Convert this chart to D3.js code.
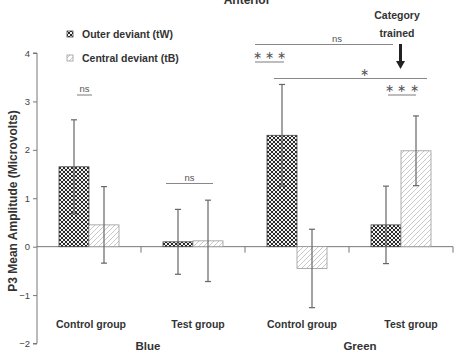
<!DOCTYPE html>
<html>
<head>
<meta charset="utf-8">
<script src="https://cdn.jsdelivr.net/npm/d3@7"></script>
<style>
  body { margin: 0; background: #fff; }
  text { font-family: "Liberation Sans", Arial, sans-serif; }
</style>
</head>
<body>
<div id="chart"></div>
<script>
// chart values
const colours = ["Blue", "Green"];
const groups = ["Control group", "Test group"];
const series = ["Outer deviant (tW)", "Central deviant (tB)"];
const outerMean = [1.65, 0.10, 2.30, 0.45];
const outerErr = [0.97, 0.67, 1.05, 0.80];
const centralMean = [0.45, 0.12, -0.45, 1.98];
const centralErr = [0.79, 0.84, 0.81, 0.72];
const yTicks = [-2, -1, 0, 1, 2, 3, 4];

var margin = {top: 53, right: 6, bottom: 12, left: 37},
  width = 459 - margin.left - margin.right,
  height = 355 - margin.top - margin.bottom;

var svg = d3.select("#chart").append("svg")
  .attr("width", 459).attr("height", 355);

// patterns
var defs = svg.append("defs");
var checker = defs.append("pattern").attr("id", "checker")
  .attr("patternUnits", "userSpaceOnUse").attr("width", 4).attr("height", 4);
checker.append("rect").attr("width", 4).attr("height", 4).attr("fill", "#f2f2f2");
checker.append("rect").attr("width", 2).attr("height", 2).attr("fill", "#2a2a2a");
checker.append("rect").attr("x", 2).attr("y", 2).attr("width", 2).attr("height", 2).attr("fill", "#2a2a2a");

var hatch = defs.append("pattern").attr("id", "hatch")
  .attr("patternUnits", "userSpaceOnUse").attr("width", 5).attr("height", 5);
hatch.append("rect").attr("width", 5).attr("height", 5).attr("fill", "#fff");
hatch.append("path").attr("d", "M-1,1 l2,-2 M0,5 l5,-5 M4,6 l2,-2")
  .attr("stroke", "#bbb").attr("stroke-width", 0.8);

var g = svg.append("g").attr("transform", "translate(" + margin.left + "," + margin.top + ")");

var cells = [];
colours.forEach(function(c) { groups.forEach(function(gr) { cells.push(c + "|" + gr); }); });

var xScale = d3.scaleBand().domain(cells).range([0, width]);
var xInner = d3.scaleBand().domain(series).range([0, 60]);
var yScale = d3.scaleLinear().domain([-2, 4]).range([height + 0.5, 0]);

// y axis
var yAxis = g.append("g")
  .call(d3.axisLeft(yScale).tickValues(yTicks).tickSize(4).tickPadding(3).tickFormat(d3.format("d")));
yAxis.select(".domain").attr("stroke", "#777").attr("d", "M-4," + yScale(-2) + "H0V" + yScale(4) + "H-4");
yAxis.selectAll(".tick line").attr("stroke", "#777");
yAxis.selectAll(".tick text").attr("fill", "#444").style("font-size", "9.5px")
  .style("font-family", "Liberation Sans, Arial, sans-serif");

// zero line with group dividers
g.append("line").attr("x1", 0).attr("x2", width).attr("y1", yScale(0)).attr("y2", yScale(0))
  .attr("stroke", "#777");
cells.forEach(function(c, i) {
  var xx = xScale(c) + xScale.bandwidth();
  g.append("line").attr("x1", xx).attr("x2", xx)
    .attr("y1", yScale(0)).attr("y2", yScale(0) + 6).attr("stroke", "#777");
});

var bars = [];
cells.forEach(function(c, i) {
  bars.push({cell: c, s: series[0], v: outerMean[i], e: outerErr[i]});
  bars.push({cell: c, s: series[1], v: centralMean[i], e: centralErr[i]});
});
var off = function(d) { return xScale(d.cell) + (xScale.bandwidth() - 60) / 2 + xInner(d.s); };

g.selectAll(".bar").data(bars).enter().append("rect")
  .attr("x", off)
  .attr("y", function(d) { return yScale(Math.max(0, d.v)); })
  .attr("width", xInner.bandwidth())
  .attr("height", function(d) { return Math.abs(yScale(d.v) - yScale(0)); })
  .attr("fill", function(d) { return d.s == series[0] ? "url(#checker)" : "url(#hatch)"; })
  .attr("stroke", function(d) { return d.s == series[0] ? "#444" : "#999"; })
  .attr("stroke-width", 0.8);

// error bars
var eb = g.selectAll(".err").data(bars).enter().append("g");
eb.append("line")
  .attr("x1", function(d) { return off(d) + xInner.bandwidth() / 2; })
  .attr("x2", function(d) { return off(d) + xInner.bandwidth() / 2; })
  .attr("y1", function(d) { return yScale(d.v + d.e); })
  .attr("y2", function(d) { return yScale(d.v - d.e); })
  .attr("stroke", "#666").attr("stroke-width", 1.2);
[1, -1].forEach(function(sgn) {
  eb.append("line")
    .attr("x1", function(d) { return off(d) + xInner.bandwidth() / 2 - 3; })
    .attr("x2", function(d) { return off(d) + xInner.bandwidth() / 2 + 3; })
    .attr("y1", function(d) { return yScale(d.v + sgn * d.e); })
    .attr("y2", function(d) { return yScale(d.v + sgn * d.e); })
    .attr("stroke", "#666").attr("stroke-width", 1.2);
});

// group labels
var labOff = [2, 5, 5, 10];
cells.forEach(function(c, i) {
  g.append("text").attr("x", xScale(c) + xScale.bandwidth() / 2 + labOff[i]).attr("y", 275)
    .attr("text-anchor", "middle").attr("fill", "#333")
    .style("font-size", "10.5px").style("font-weight", "bold").text(c.split("|")[1]);
});
colours.forEach(function(c, i) {
  g.append("text").attr("x", xScale(c + "|" + groups[0]) + xScale.bandwidth() + (i ? 11 : 7)).attr("y", 297)
    .attr("text-anchor", "middle").attr("fill", "#333")
    .style("font-size", "11.5px").style("font-weight", "bold").text(c);
});

// y label
svg.append("text").attr("transform", "translate(17,201) rotate(-90)")
  .attr("text-anchor", "middle").attr("fill", "#333")
  .style("font-size", "12px").style("font-weight", "bold").text("P3 Mean Amplitude (Microvolts)");

// title, cut at top
svg.append("text").attr("x", 247).attr("y", 4).attr("text-anchor", "middle").attr("fill", "#333")
  .style("font-size", "12px").style("font-weight", "bold").text("Anterior");

// legend
series.forEach(function(s, i) {
  svg.append("rect").attr("x", 67).attr("y", 31 + i * 24).attr("width", 6).attr("height", 6)
    .attr("fill", i ? "url(#hatch)" : "url(#checker)").attr("stroke", i ? "#999" : "#444").attr("stroke-width", 0.8);
  svg.append("text").attr("x", 82).attr("y", 38 + i * 24).attr("fill", "#333")
    .style("font-size", "10.5px").style("font-weight", "bold").text(s);
});

// significance marks
function barX(ci, si) { return xScale(cells[ci]) + (xScale.bandwidth() - 60) / 2 + xInner(series[si]) + xInner.bandwidth() / 2; }
function sig(x1, x2, yy, label, tx) {
  svg.append("line").attr("x1", x1).attr("x2", x2).attr("y1", yy).attr("y2", yy)
    .attr("stroke", "#888").attr("stroke-width", 1.1);
  svg.append("text").attr("x", tx === undefined ? (x1 + x2) / 2 : tx).attr("y", yy - 3)
    .attr("text-anchor", "middle").attr("fill", "#555")
    .style("font-size", label == "ns" ? "9.5px" : "11px").text(label);
}
var L = margin.left;
sig(L + barX(0, 0) + 3, L + barX(0, 1) - 29 + 17, 95, "ns");
sig(L + barX(1, 0) - 12, L + barX(1, 1) + 5, 183.5, "ns");
sig(L + barX(2, 0) - 27, L + barX(3, 0) + 7, 44.5, "ns", 337);
sig(L + barX(2, 0) - 27, L + barX(2, 0) + 2, 62, "\u2217 \u2217 \u2217");
sig(L + barX(2, 0) - 8, L + barX(3, 1) + 11, 78.5, "\u2217", 364);
sig(L + barX(3, 0) + 2, L + barX(3, 1), 95, "\u2217 \u2217 \u2217");

// category trained arrow
var ax = L + barX(3, 0) + 14.5;
svg.append("line").attr("x1", ax).attr("x2", ax).attr("y1", 44).attr("y2", 62)
  .attr("stroke", "#222").attr("stroke-width", 3);
svg.append("path").attr("d", "M" + (ax - 4.5) + ",61 L" + (ax + 4.5) + ",61 L" + ax + ",69 Z").attr("fill", "#222");
svg.append("text").attr("x", 397).attr("y", 19).attr("text-anchor", "middle").attr("fill", "#333")
  .style("font-size", "10.5px").style("font-weight", "bold").text("Category");
svg.append("text").attr("x", 397).attr("y", 37).attr("text-anchor", "middle").attr("fill", "#333")
  .style("font-size", "10.5px").style("font-weight", "bold").text("trained");
</script>
</body>
</html>
